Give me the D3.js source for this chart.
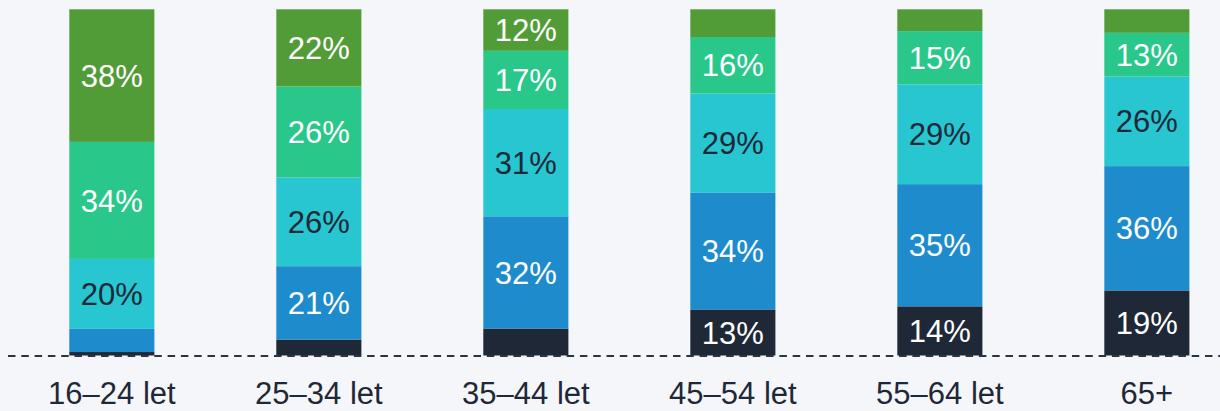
<!DOCTYPE html>
<html>
<head>
	<meta charset="utf-8">
	<script src="https://d3js.org/d3.v7.min.js"></script>
	<style type="text/css">
		body {
			margin: 0;
			background: #f5f6fa;
		}
		#chart svg {
			display: block;
		}
		text {
			font-family: Arial, "Liberation Sans", sans-serif;
		}
	</style>
</head>
<body>
<div id="chart"></div>
<script>

// age groups
var categories = ["16–24 let", "25–34 let", "35–44 let", "45–54 let", "55–64 let", "65+"];

// stack order, bottom to top
var seriesNames = ["s1", "s2", "s3", "s4", "s5"];
var s1 = [1, 4.6, 7.8, 13.3, 14.2, 18.8];
var s2 = [6.7, 21.2, 32.4, 33.8, 35.3, 35.9];
var s3 = [20.2, 25.6, 31, 28.6, 28.8, 25.9];
var s4 = [33.8, 26.3, 16.8, 16.3, 15.4, 12.6];
var s5 = [38.3, 22.3, 12, 8, 6.3, 6.8];

var colors = ["#1e2836", "#1e8bcc", "#27c6d0", "#2ac78b", "#529c38"];
var textColors = ["#ffffff", "#ffffff", "#1e2836", "#ffffff", "#ffffff"];

function drawChart() {
	var width = 1220, height = 411;
	var svg = d3.select('#chart')
		.append('svg')
		.attr("width", width)
		.attr("height", height);

	var seriesValues = [s1, s2, s3, s4, s5];
	var rows = categories.map(function(c, i) {
		var row = { cat: c };
		seriesNames.forEach(function(k, j) { row[k] = seriesValues[j][i]; });
		return row;
	});

	var stacked = d3.stack().keys(seriesNames)(rows);

	var x = d3.scaleBand()
		.domain(categories)
		.range([7.2, 1251.5])
		.paddingInner(0.589)
		.paddingOuter(0.3);

	var y = d3.scaleLinear()
		.domain([0, 100])
		.range([355.5, 9.3]);

	var layers = svg.selectAll("g.layer")
		.data(stacked)
		.enter().append("g")
		.attr("class", "layer")
		.attr("fill", function(d, i) { return colors[i]; });

	layers.selectAll("rect")
		.data(function(d) { return d; })
		.enter().append("rect")
		.attr("x", function(d) { return x(d.data.cat); })
		.attr("width", x.bandwidth())
		.attr("y", function(d) { return y(d[1]); })
		.attr("height", function(d) { return y(d[0]) - y(d[1]); });

	// value labels, only where the segment is big enough
	layers.selectAll("text")
		.data(function(d, i) { return d.map(function(p) { return { p: p, i: i }; }); })
		.enter().filter(function(d) { return d.p[1] - d.p[0] >= 10; })
		.append("text")
		.attr("x", function(d) { return x(d.p.data.cat) + x.bandwidth() / 2; })
		.attr("y", function(d) { return (y(d.p[0]) + y(d.p[1])) / 2; })
		.attr("dy", "0.36em")
		.attr("text-anchor", "middle")
		.attr("font-size", "31px")
		.attr("fill", function(d) { return textColors[d.i]; })
		.text(function(d) { return Math.round(d.p[1] - d.p[0]) + "%"; });

	// dashed baseline
	svg.append("line")
		.attr("x1", 8)
		.attr("x2", width)
		.attr("y1", y(0) + 0.5)
		.attr("y2", y(0) + 0.5)
		.attr("stroke", "#2a3442")
		.attr("stroke-width", 2)
		.attr("stroke-dasharray", "7.5,5.8");

	// category labels
	var xAxis = d3.axisBottom(x).tickSize(0).tickPadding(0);
	var ax = svg.append("g")
		.attr("transform", "translate(0," + 404 + ")")
		.call(xAxis);
	ax.select(".domain").remove();
	ax.selectAll("text")
		.attr("font-size", "31px")
		.attr("font-family", "Arial, 'Liberation Sans', sans-serif")
		.attr("fill", "#1e2836")
		.attr("dy", "0");
}

drawChart();

</script>
</body>
</html>
